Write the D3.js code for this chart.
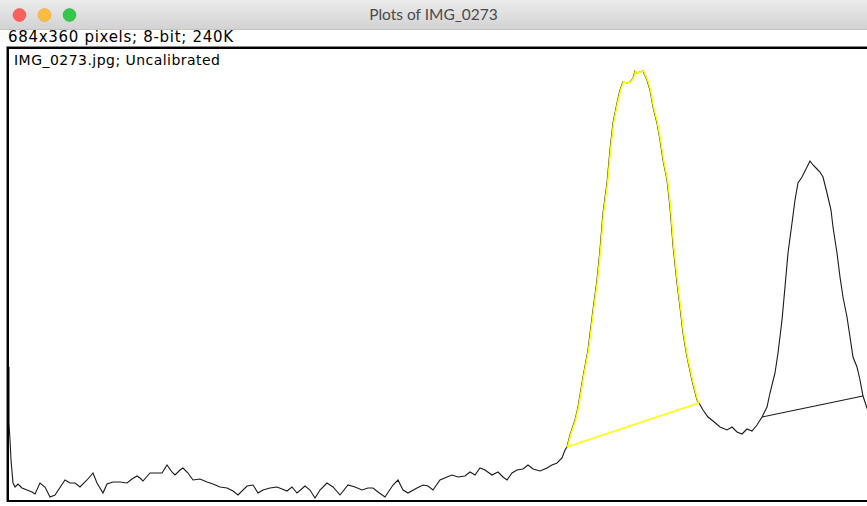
<!DOCTYPE html>
<html>
<head>
<meta charset="utf-8">
<script src="https://cdn.jsdelivr.net/npm/d3@7"></script>
<style>
  html, body { margin: 0; padding: 0; background: #fff; }
  svg { display: block; }
</style>
</head>
<body>
<div id="plot"></div>
<script>
// profile: distance along the line (px) and value above the bottom edge
// (ten points per row in both arrays)
const dist = [
  0, 0, 1, 2, 4, 6, 9, 13, 18, 23,
  26, 31, 36, 41, 46, 56, 61, 66, 71, 78,
  84, 88, 94, 98, 104, 111, 118, 123, 128, 131,
  134, 141, 148, 153, 158, 163, 166, 171, 174, 179,
  184, 191, 198, 204, 211, 218, 224, 229, 238, 244,
  249, 254, 261, 268, 273, 278, 283, 288, 296, 301,
  306, 311, 318, 324, 331, 339, 346, 353, 359, 364,
  369, 376, 384, 389, 394, 399, 408, 414, 419, 424,
  431, 438, 443, 449, 456, 461, 466, 471, 476, 483,
  489, 494, 498, 503, 508, 514, 519, 524, 531, 538,
  543, 548, 553, 556, 558, 561, 566, 569, 574, 579,
  584, 588, 591, 594, 598, 601, 604, 608, 611, 614,
  618, 621, 624, 626, 628, 631, 634, 638, 641, 644,
  648, 651, 654, 658, 661, 664, 668, 671, 674, 678,
  683, 688, 690, 694, 699, 704, 711, 718, 723, 728,
  733, 738, 743, 748, 753, 758, 761, 766, 769, 773,
  776, 779, 783, 786, 789, 793, 798, 801, 804, 808,
  811, 814, 818, 822, 824, 828, 831, 834, 838, 841,
  844, 848, 851, 854, 858, 862];
const value = [
  133, 77, 60, 40, 17, 13, 16, 12, 10, 8,
  6, 17, 13, 3, 5, 20, 17, 17, 13, 20,
  27, 17, 7, 16, 18, 18, 17, 21, 24, 22,
  19, 27, 27, 27, 35, 28, 25, 30, 32, 27,
  20, 21, 18, 16, 13, 12, 9, 5, 14, 15,
  7, 10, 12, 13, 11, 9, 13, 7, 14, 10,
  2, 10, 17, 13, 5, 15, 13, 10, 12, 12,
  8, 3, 15, 20, 10, 7, 12, 15, 14, 10,
  20, 23, 25, 23, 24, 28, 25, 32, 30, 25,
  28, 23, 20, 27, 30, 31, 35, 31, 29, 32,
  35, 37, 42, 50, 53, 65, 80, 93, 123, 150,
  190, 220, 250, 287, 317, 350, 377, 397, 410, 418,
  417, 418, 422, 429, 427, 428, 429, 420, 410, 393,
  377, 360, 340, 320, 293, 255, 217, 193, 167, 143,
  120, 100, 97, 90, 83, 79, 73, 70, 73, 68,
  66, 71, 69, 75, 83, 93, 107, 127, 147, 180,
  213, 247, 277, 300, 317, 323, 333, 339, 335, 331,
  328, 323, 307, 290, 273, 247, 223, 203, 183, 163,
  143, 133, 120, 104, 92, 80];
// fitted baselines under the two peaks: [start index, end index] into the profile
const peak1 = [104, 142];
const peak2 = [154, 183];

const W = 867, H = 506;
const plotBox = {left: 9, right: 870, top: 49, bottom: 500};

const svg = d3.select("#plot").append("svg")
  .attr("width", W)
  .attr("height", H);

// window title bar
const defs = svg.append("defs");
const grad = defs.append("linearGradient")
  .attr("id", "bar").attr("x1", 0).attr("x2", 0).attr("y1", 0).attr("y2", 1);
grad.append("stop").attr("offset", "0%").attr("stop-color", "#ececec");
grad.append("stop").attr("offset", "100%").attr("stop-color", "#d2d2d2");

svg.append("rect").attr("width", W).attr("height", 29).attr("fill", "url(#bar)");
svg.append("line").attr("x1", 0).attr("x2", W).attr("y1", 29.5).attr("y2", 29.5)
  .attr("stroke", "#c4c4c4");

const lights = [["#fc605c", "#de4a45"], ["#fdbc40", "#dea033"], ["#34c84a", "#27aa36"]];
svg.selectAll("circle.light")
  .data(lights)
  .join("circle")
    .attr("class", "light")
    .attr("cx", (d, i) => 19.5 + i * 25)
    .attr("cy", 15)
    .attr("r", 6.5)
    .attr("fill", d => d[0])
    .attr("stroke", d => d[1])
    .attr("stroke-width", 0.5);

svg.append("text")
  .attr("x", W / 2)
  .attr("y", 20)
  .attr("text-anchor", "middle")
  .attr("font-family", "Lato, 'Open Sans', sans-serif")
  .attr("font-size", 15.5)
  .attr("fill", "#4a4a4a")
  .text("Plots of IMG_0273");

svg.append("text")
  .attr("x", 8)
  .attr("y", 42)
  .attr("font-family", "'DejaVu Sans', sans-serif")
  .attr("font-size", 15)
  .attr("textLength", 225)
  .attr("lengthAdjust", "spacing")
  .attr("fill", "#000")
  .text("684x360 pixels; 8-bit; 240K");

// plot frame
svg.append("rect")
  .attr("x", 6.5).attr("y", 46.5)
  .attr("width", W).attr("height", 455)
  .attr("fill", "none").attr("stroke", "#8a8a8a").attr("stroke-width", 1);
svg.append("rect")
  .attr("x", 8).attr("y", 48)
  .attr("width", W).attr("height", 453)
  .attr("fill", "none").attr("stroke", "#000").attr("stroke-width", 2);

svg.append("text")
  .attr("x", 14)
  .attr("y", 65)
  .attr("font-family", "'DejaVu Sans', sans-serif")
  .attr("font-size", 14)
  .attr("textLength", 206)
  .attr("lengthAdjust", "spacing")
  .attr("fill", "#000")
  .text("IMG_0273.jpg; Uncalibrated");

const x = d3.scaleLinear([0, 861], [plotBox.left, plotBox.right]);
const y = d3.scaleLinear([0, 451], [plotBox.bottom, plotBox.top]);

defs.append("clipPath").attr("id", "clip")
  .append("rect")
    .attr("x", plotBox.left).attr("y", plotBox.top)
    .attr("width", W - plotBox.left).attr("height", plotBox.bottom - plotBox.top);

const plot = svg.append("g").attr("clip-path", "url(#clip)");

const line = d3.line()
  .x(i => x(dist[i]))
  .y(i => y(value[i]));

const I = d3.range(dist.length);

plot.append("path")
  .datum(I)
  .attr("d", line)
  .attr("fill", "none")
  .attr("stroke", "#1a1a1a")
  .attr("stroke-width", 1.1);

// second peak baseline (black)
plot.append("line")
  .attr("x1", x(dist[peak2[0]])).attr("y1", y(value[peak2[0]]))
  .attr("x2", x(dist[peak2[1]])).attr("y2", y(value[peak2[1]]))
  .attr("stroke", "#1a1a1a").attr("stroke-width", 1.1);

// selected peak highlighted in yellow
const sel = d3.range(peak1[0], peak1[1] + 1);
plot.append("path")
  .datum(sel)
  .attr("d", line)
  .attr("transform", "translate(0.6,0)")
  .attr("fill", "none")
  .attr("stroke", "#ffff00")
  .attr("stroke-width", 1.6);
plot.append("line")
  .attr("x1", x(dist[peak1[0]])).attr("y1", y(value[peak1[0]]))
  .attr("x2", x(dist[peak1[1]])).attr("y2", y(value[peak1[1]]))
  .attr("stroke", "#ffff00").attr("stroke-width", 1.4);
</script>
</body>
</html>
